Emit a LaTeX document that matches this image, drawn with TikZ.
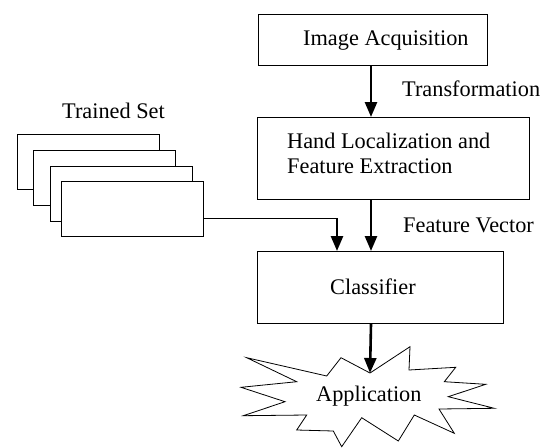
\documentclass[tikz,border=0pt]{standalone}
\usepackage{fontspec}
\setmainfont{Liberation Serif}
\usetikzlibrary{arrows.meta}

\begin{document}
\begin{tikzpicture}[x=1pt,y=-1pt,
    box/.style={draw, line width=1pt, fill=white, inner sep=0pt, anchor=north west},
    sheet/.style={box, minimum width=142pt, minimum height=55pt},
    flow/.style={line width=2.6pt, -{Triangle[width=12pt,length=15pt]}},
    lbl/.style={anchor=base west, inner sep=0pt, align=left},
    font=\fontsize{22.3}{25.5}\selectfont]
    \useasboundingbox (0,0) rectangle (548,447);

    \node[box, minimum width=229pt, minimum height=51pt] (acq) at (258,14) {};
    \node[box, minimum width=272pt, minimum height=82pt] (hand) at (257,117) {};
    \node[box, minimum width=246pt, minimum height=72pt] (cls) at (257,251) {};

    % trained set, back to front
    \foreach \x/\y [count=\i] in {17/134, 33/150, 50/166, 61/181}
        \node[sheet] (sheet\i) at (\x,\y) {};

    \coordinate (spine) at (371,0);
    \coordinate (tbend) at (337,218);
    \coordinate (apptip) at (370,373);

    % application
    \draw[line width=0.8pt, line join=miter]
        (246.7,357.7) -- (326.7,376) -- (341,357.7) -- (apptip) -- (410,346.7) -- (409,370)
        -- (455.7,367.3) -- (444.3,381.7) -- (485.7,384.3) -- (448.3,396.7) -- (494.3,408.3)
        -- (439,409) -- (454.3,433.3) -- (414.3,415) -- (398.3,441) -- (361.7,417.7)
        -- (341.7,446.7) -- (333.3,431) -- (296.7,430) -- (306.7,415) -- (243.3,415.7)
        -- (285,401.7) -- (241,387.3) -- (296.7,381.7) -- cycle;

    \draw[flow] (acq.south -| spine) -- (hand.north -| spine);
    \draw[flow] (hand.south -| spine) -- (cls.north -| spine);
    \draw[line width=1pt] (sheet4.east |- tbend) -- (tbend);
    \draw[flow] (tbend) -- (cls.north -| tbend);
    \draw[flow] (cls.south -| spine) -- (apptip);

%labels
    \node[lbl] (acqtext) at (303,45) {Image Acquisition};
    \node[lbl] (handtext) at (287,148) {Hand Localization and};
    \node[lbl] (handtext2) at (287,173) {Feature Extraction};
    \node[lbl] (clstext) at (330,294) {Classifier};
    \node[lbl] (app) at (316,401) {Application};
    \node[lbl] (tset) at (62,118) {Trained Set};
    \node[lbl] (trans) at (402,96) {Transformation};
    \node[lbl] (fvec) at (403,232) {Feature Vector};

\end{tikzpicture}
\end{document}
